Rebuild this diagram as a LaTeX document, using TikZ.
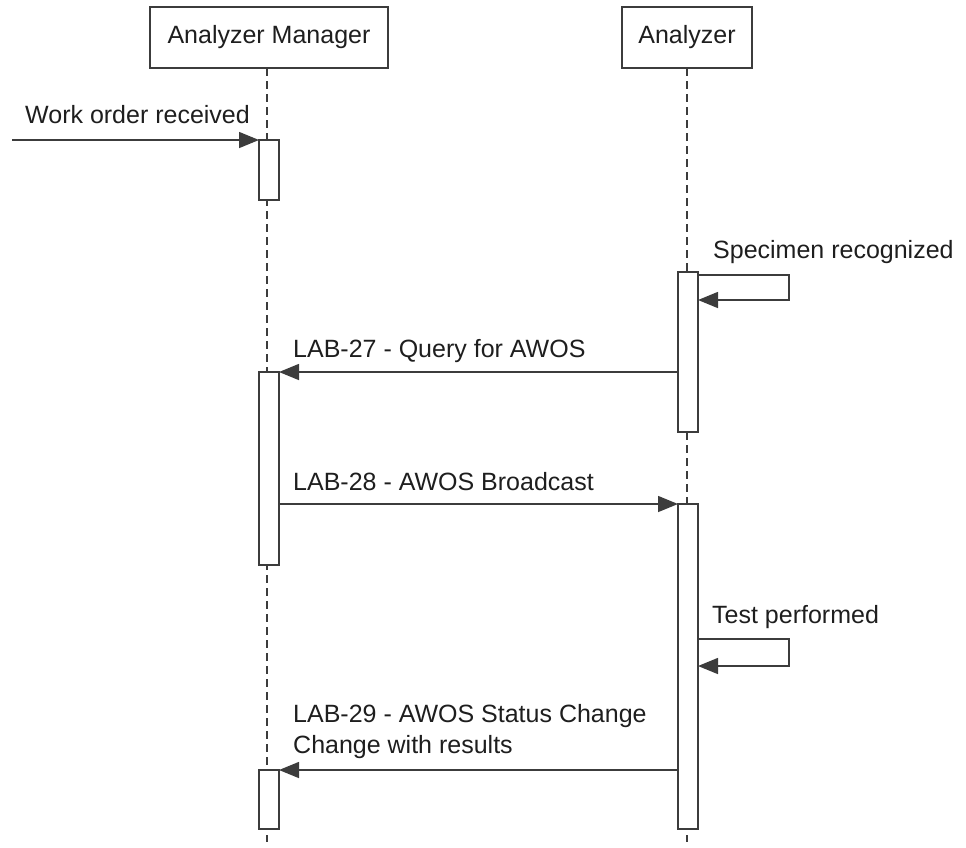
\documentclass[tikz,border=0pt]{standalone}
\usepackage{fontspec}
\setmainfont{Liberation Sans}
\usetikzlibrary{arrows.meta,calc}
\definecolor{ln}{HTML}{3C3C3C}
\definecolor{tx}{HTML}{1E1E1E}
\begin{document}
\begin{tikzpicture}[x=1pt,y=-1pt,
  font=\fontsize{25}{31}\selectfont, text=tx,
  actor/.style={draw=ln, line width=1.6pt, minimum height=61pt, inner sep=0pt, outer sep=0pt, fill=white},
  life/.style={draw=ln, line width=1.4pt, dash pattern=on 8pt off 5pt},
  act/.style={draw=ln, line width=1.6pt, fill=white, minimum width=20pt, inner sep=0pt, outer sep=0pt, anchor=north west},
  msg/.style={draw=ln, line width=1.5pt, -{Triangle[length=20pt,width=16pt]}},
  lbl/.style={inner sep=0pt, anchor=base west}
]
\useasboundingbox (0,0) rectangle (966,847);
% actors
\node[actor, minimum width=238pt] (am) at (269,37.5) {Analyzer Manager};
\node[actor, minimum width=130pt] (an) at (687,37.5) {Analyzer};
% lifelines
\coordinate (amend) at (267,842);
\coordinate (anend) at (687,842);
\draw[life] ([xshift=-2pt]am.south) -- (amend);
\draw[life] (an.south) -- (anend);
% activations
\node[act, minimum height=60pt] (am1) at (259,140) {};
\node[act, minimum height=160pt] (a1) at (678,272) {};
\node[act, minimum height=193pt] (am2) at (259,372) {};
\node[act, minimum height=325pt] (a2) at (678,504) {};
\node[act, minimum height=59pt] (am3) at (259,770) {};
% messages
\coordinate (src) at (12,140);
\draw[msg] (src) -- (am1.north west);
\node[lbl] (lwo) at (25,123) {Work order received};

\draw[msg] ($(a1.north east)+(0,3)$) -| ($(a1.north east)+(91,28)$) -- ($(a1.north east)+(0,28)$);
\node[lbl] (lsp) at (713,258) {Specimen recognized};

\draw[msg] (a1.west |- am2.north) -- (am2.north east);
\node[lbl] (l27) at (293,357) {LAB-27 - Query for AWOS};

\draw[msg] (am2.east |- a2.north) -- (a2.north west);
\node[lbl] (l28) at (293,490) {LAB-28 - AWOS Broadcast};

\draw[msg] ($(a2.north east)+(0,135)$) -| ($(a2.north east)+(91,162)$) -- ($(a2.north east)+(0,162)$);
\node[lbl] (ltp) at (712,623) {Test performed};

\draw[msg] (a2.west |- am3.north) -- (am3.north east);
\node[lbl] (l29a) at (293,722) {LAB-29 - AWOS Status Change};
\node[lbl] (l29b) at (293,753) {Change with results};
\end{tikzpicture}
\end{document}
